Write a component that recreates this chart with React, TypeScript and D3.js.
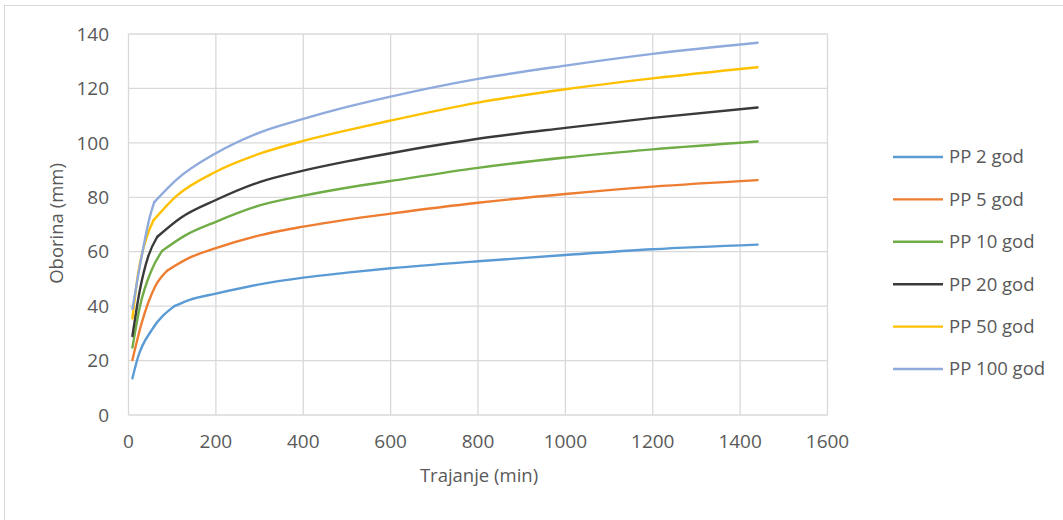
import React from "react";
import * as d3 from "d3";

const seriesNames = ["PP 2 god", "PP 5 god", "PP 10 god", "PP 20 god", "PP 50 god", "PP 100 god"];
const seriesColors = ["#5b9bd5", "#ed7d31", "#70ad47", "#3a3a3a", "#ffc000", "#8faadc"];

const pp2: [number, number][] = [[9, 13.5], [22, 21.4], [53, 31.2], [105, 40], [140, 42.3], [200, 44.6], [300, 48], [400, 50.5], [500, 52.3], [600, 53.9], [800, 56.5], [1000, 58.8], [1200, 60.9], [1440, 62.6]];
const pp5: [number, number][] = [[9, 20.2], [30, 33.7], [61, 47.2], [90, 53.2], [140, 57.8], [200, 61.3], [300, 66], [400, 69.2], [500, 71.8], [600, 74], [800, 78], [1000, 81.2], [1200, 83.9], [1440, 86.3]];
const pp10: [number, number][] = [[9, 24.8], [26, 39.8], [53, 53.3], [77, 60.3], [130, 66], [200, 71], [300, 77], [400, 80.6], [500, 83.5], [600, 86], [800, 90.8], [1000, 94.6], [1200, 97.6], [1440, 100.5]];
const pp20: [number, number][] = [[9, 29], [26, 45.9], [45, 58.2], [66, 65.5], [120, 72.5], [200, 79], [300, 85.6], [400, 89.8], [500, 93.2], [600, 96.2], [800, 101.5], [1000, 105.5], [1200, 109.2], [1440, 113]];
const pp50: [number, number][] = [[9, 35.5], [22, 52], [42, 65.5], [57, 71.5], [110, 80.5], [200, 89.4], [300, 96], [400, 100.7], [500, 104.6], [600, 108.2], [800, 114.8], [1000, 119.7], [1200, 123.7], [1440, 127.8]];
const pp100: [number, number][] = [[9, 39], [30, 58.2], [49, 72.9], [59, 78.2], [110, 86.5], [200, 96.2], [300, 103.8], [400, 108.8], [500, 113.2], [600, 117], [800, 123.5], [1000, 128.4], [1200, 132.7], [1440, 136.8]];
const seriesData = [pp2, pp5, pp10, pp20, pp50, pp100];
const kinkIndex = 3;

const xTicks = [0, 200, 400, 600, 800, 1000, 1200, 1400, 1600];
const yTicks = [0, 20, 40, 60, 80, 100, 120, 140];

const FONT = "'Open Sans', 'Noto Sans', sans-serif";

export default function App() {
  const W = 1063, H = 520;
  const x = d3.scaleLinear().domain([0, 1600]).range([128.5, 827.5]);
  const y = d3.scaleLinear().domain([0, 140]).range([415, 34]);
  const head = d3.line<[number, number]>().x(d => x(d[0])).y(d => y(d[1])).curve(d3.curveMonotoneX);
  const tail = d3.line<[number, number]>().x(d => x(d[0])).y(d => y(d[1])).curve(d3.curveMonotoneX);

  return (
    <svg width={W} height={H} style={{ position: "absolute", left: 0, top: 0, background: "#fff" }} fontFamily={FONT}>
      <rect x={4.5} y={5.5} width={1080} height={540} fill="#fff" stroke="#d9d9d9" strokeWidth={1} />
      {yTicks.map(t => (
        <line key={"gy" + t} x1={x(0)} x2={x(1600)} y1={y(t)} y2={y(t)} stroke="#d9d9d9" strokeWidth={1.3} />
      ))}
      {xTicks.map(t => (
        <line key={"gx" + t} x1={x(t)} x2={x(t)} y1={y(0)} y2={y(140)} stroke="#d9d9d9" strokeWidth={1.3} />
      ))}
      {yTicks.map(t => (
        <text key={"ty" + t} x={109} y={y(t)} dy="0.35em" textAnchor="end" fontSize={19} fill="#595959">{t}</text>
      ))}
      {xTicks.map(t => (
        <text key={"tx" + t} x={x(t)} y={441} dy="0.35em" textAnchor="middle" fontSize={19} fill="#595959">{t}</text>
      ))}
      <text transform={`translate(57,${y(70) - 1}) rotate(-90)`} textAnchor="middle" dy="0.35em" fontSize={18.5} fill="#595959">Oborina (mm)</text>
      <text x={479} y={476} textAnchor="middle" dy="0.35em" fontSize={18.5} fill="#595959">Trajanje (min)</text>
      {seriesData.map((d, i) => (
        <g key={"s" + i} fill="none" stroke={seriesColors[i]} strokeWidth={2.4} strokeLinejoin="round" strokeLinecap="round">
          <path d={head(d.slice(0, kinkIndex + 1)) || ""} />
          <path d={tail(d.slice(kinkIndex)) || ""} />
        </g>
      ))}
      {seriesNames.map((n, i) => {
        const ly = 157 + i * 42.4;
        return (
          <g key={"l" + i}>
            <line x1={893} x2={943} y1={ly} y2={ly} stroke={seriesColors[i]} strokeWidth={2.4} />
            <text x={949} y={ly} dy="0.35em" fontSize={18.5} fill="#595959">{n}</text>
          </g>
        );
      })}
    </svg>
  );
}
